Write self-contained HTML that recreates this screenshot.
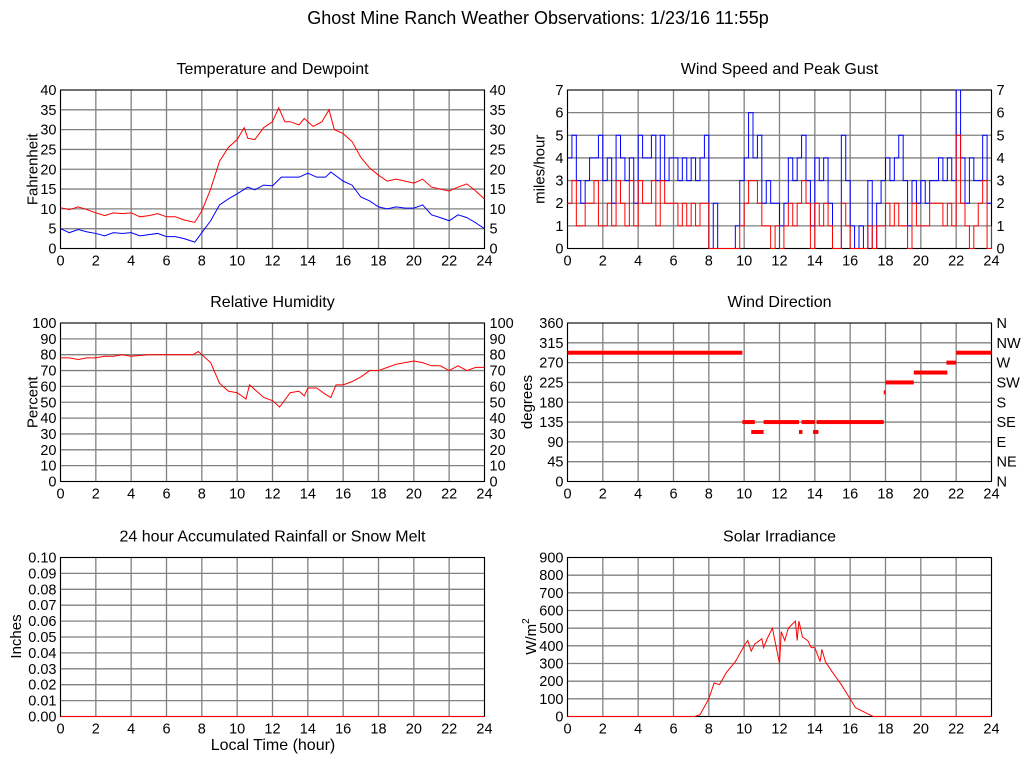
<!DOCTYPE html>
<html><head><meta charset="utf-8"><style>
body{margin:0;background:#fff;width:1024px;height:768px;overflow:hidden}
svg{display:block;font-family:"Liberation Sans",sans-serif}
</style></head><body>
<svg id="s" width="1024" height="768" xmlns="http://www.w3.org/2000/svg">
<text x="538" y="24" font-size="18" text-anchor="middle">Ghost Mine Ranch Weather Observations: 1/23/16 11:55p</text>
<text x="273" y="750" font-size="16" text-anchor="middle">Local Time (hour)</text>
</svg>
<script>
const xTicks=[0,2,4,6,8,10,12,14,16,18,20,22,24];
const tempHours=[0,0.5,1,1.5,2,2.5,3,3.5,4,4.5,5,5.5,6,6.5,7,7.6,8,8.5,9,9.5,10,10.4,10.6,11,11.5,12,12.35,12.7,13,13.5,13.8,14.3,14.8,15.2,15.5,16,16.5,17,17.5,18,18.5,19,19.5,20,20.5,21,21.5,22,22.5,23,23.5,24];
const tempVals=[10.3,9.8,10.5,9.8,9,8.3,9,8.8,9,8,8.3,8.8,8,8,7.2,6.6,9.5,15,22,25.5,27.5,30.5,27.8,27.5,30.5,32,35.5,32,32,31.2,32.8,30.8,32,35,30,29,27,23,20.3,18.5,17,17.5,17,16.5,17.5,15.5,15,14.5,15.5,16.3,14.5,12.5];
const dewHours=[0,0.5,1,1.5,2,2.5,3,3.5,4,4.5,5,5.5,6,6.5,7,7.6,8,8.5,9,9.5,10,10.6,11,11.5,12,12.5,13,13.5,14,14.5,15,15.3,16,16.5,17,17.5,18,18.5,19,19.5,20,20.5,21,21.5,22,22.5,23,23.5,24];
const dewVals=[5,4,4.8,4.2,3.8,3.2,4,3.8,4,3.2,3.5,3.8,3,3,2.5,1.6,4,7,11,12.5,13.8,15.5,14.8,16,15.8,18,18,18,19,18,18,19.3,17,16,13,12,10.5,10,10.5,10.2,10.2,11,8.5,7.8,7,8.5,7.8,6.5,5];
const rhHours=[0,0.5,1,1.5,2,2.5,3,3.5,4,4.5,5,5.5,6,6.5,7,7.5,7.8,8.5,9,9.5,10,10.5,10.7,11,11.5,12,12.4,13,13.5,13.8,14,14.5,15,15.3,15.6,16,16.5,17,17.5,18,18.5,19,19.5,20,20.5,21,21.5,22,22.5,23,23.5,24];
const rhVals=[78,78,77,78,78,79,79,80,79,79.5,80,80,80,80,80,80,82,75,62,57,56,52,61,58,53,51,47,56,57,54,59,59,55,53,61,61,63,66,70,70,72,74,75,76,75,73,73,70,73,70,72,72];
const windHours=[];for(let i=0;i<=96;i++)windHours.push(i*0.25);
const gustVals=[4,5,3,2,3,4,4,5, 3,4,2,5,4,3,4,2, 5,4,4,5,3,5,3,4, 4,3,4,3,4,3,4,5, 0,2,0,0,0,0,1,3, 4,6,4,5,2,3,2,2, 1,2,4,3,4,5,3,1, 4,3,4,2,0,0,5,3, 1,0,1,0,3,0,2,3, 4,3,4,5,3,1,3,2, 3,2,3,3,4,3,4,3, 7,4,2,4,3,3,5,2,2];
const speedVals=[2,3,1,1,2,2,3,1, 1,2,1,3,2,1,3,1, 3,2,2,3,1,3,2,2, 2,1,2,1,2,1,2,2, 0,0,0,0,0,0,0,1, 2,3,3,2,1,1,0,1, 0,1,2,1,2,3,2,0, 2,1,2,1,0,0,2,1, 0,0,0,0,1,0,1,1, 2,1,2,1,1,0,2,1, 1,1,2,2,2,1,2,1, 5,2,1,0,1,2,3,0,1];
const dirStart=[0,9.9,10.4,11.1,13.1,13.25,13.9,14.1,17.9,18,19.6,21.45,22];
const dirEnd=[9.9,10.6,11.1,13.1,13.3,14,14.2,17.9,18,19.6,21.5,22,24];
const dirVals=[292.5,135,112.5,135,112.5,135,112.5,135,202.5,225,247.5,270,292.5];
const solarHours=[0,7.2,7.5,8,8.3,8.6,9,9.5,10,10.2,10.4,10.6,11,11.1,11.3,11.6,11.8,12,12.1,12.3,12.5,12.7,12.9,13,13.1,13.3,13.6,13.8,14,14.3,14.4,14.6,15,15.5,16,16.3,17,17.3,24];
const solarVals=[0,0,10,100,190,180,250,310,400,430,370,410,440,390,440,500,400,300,480,430,500,520,540,430,540,450,430,390,390,310,380,310,250,180,100,50,15,0,0];
const rainHours=[0,24];const rainVals=[0,0];

const S=document.getElementById('s');const NS='http://www.w3.org/2000/svg';
function el(t,a,p){const e=document.createElementNS(NS,t);for(const k in a)e.setAttribute(k,a[k]);(p||S).appendChild(e);return e;}
function panel(name,x0,x1,y0,y1,ymin,ymax,yTicks,yLab,rightLab,title,ytitle){
  const g=el('g',{});
  
  
  const sx=h=>x0+(h/24)*(x1-x0), sy=v=>y1-(v-ymin)/(ymax-ymin)*(y1-y0);
  xTicks.forEach(t=>{const l=el('line',{x1:sx(t),x2:sx(t),y1:y0,y2:y1,stroke:'#808080','stroke-width':1.3},g);
    
    const tx=el('text',{x:sx(t),y:y1+17,'font-size':14.5,'text-anchor':'middle'},g);tx.textContent=t;
    });
  yTicks.forEach((t,i)=>{const l=el('line',{x1:x0,x2:x1,y1:sy(t),y2:sy(t),stroke:'#808080','stroke-width':1.3},g);
    
    const tx=el('text',{x:x0-4,y:sy(t)+5,'font-size':14.5,'text-anchor':'end'},g);tx.textContent=yLab[i];
    
    if(rightLab){const r=el('text',{x:x1+5,y:sy(t)+5,'font-size':14.5},g);r.textContent=rightLab[i];
      }});
  const b=el('rect',{x:x0,y:y0,width:x1-x0,height:y1-y0,fill:'none',stroke:'#000','stroke-width':1},g);
  
  const tt=el('text',{x:(x0+x1)/2,y:y0-16,'font-size':16,'text-anchor':'middle'},g);tt.textContent=title;
  
  const yt=el('text',{x:0,y:0,'font-size':15,'text-anchor':'middle',transform:`translate(${x0-23},${(y0+y1)/2}) rotate(-90)`},g);yt.innerHTML=ytitle;
  
  return {g,sx,sy};
}
function line(p,hs,vs,color,name,step){
  let d='';hs.forEach((h,i)=>{const X=p.sx(h),Y=p.sy(vs[i]);
    if(i===0)d+='M'+X+' '+Y;else if(step)d+=' H'+X+' V'+Y;else d+=' L'+X+' '+Y;});
  const e=el('path',{d,fill:'none',stroke:color,'stroke-width':1},p.g);
  
  
}
const t5=[0,5,10,15,20,25,30,35,40];
let p=panel('temperature',60.5,484.5,90,248.5,0,40,t5,t5,t5,'Temperature and Dewpoint','Fahrenheit');
line(p,dewHours,dewVals,'#00f','dewpoint-line');line(p,tempHours,tempVals,'#f00','temperature-line');
const w7=[0,1,2,3,4,5,6,7];
p=panel('wind-speed',567.5,991.5,90,248.5,0,7,w7,w7,w7,'Wind Speed and Peak Gust','miles/hour');
line(p,windHours,gustVals,'#00f','gust-line',true);line(p,windHours,speedVals,'#f00','speed-line',true);
const r10=[0,10,20,30,40,50,60,70,80,90,100];
p=panel('humidity',60.5,484.5,323,481.5,0,100,r10,r10,r10,'Relative Humidity','Percent');
line(p,rhHours,rhVals,'#f00','humidity-line');
const d45=[0,45,90,135,180,225,270,315,360];
p=panel('wind-direction',567.5,991.5,323,481.5,0,360,d45,d45,['N','NE','E','SE','S','SW','W','NW','N'],'Wind Direction','degrees');
p.g.lastChild.setAttribute('transform','translate(532,402) rotate(-90)');
dirVals.forEach((v,i)=>{const r=el('rect',{x:p.sx(dirStart[i]),y:p.sy(v)-2,width:p.sx(dirEnd[i])-p.sx(dirStart[i]),height:4,fill:'#f00'},p.g);
  
  });
const rn=[0,0.01,0.02,0.03,0.04,0.05,0.06,0.07,0.08,0.09,0.10];
p=panel('rainfall',60.5,484.5,557.5,716.5,0,0.1,rn,rn.map(v=>v.toFixed(2)),null,'24 hour Accumulated Rainfall or Snow Melt','Inches');
p.g.lastChild.setAttribute('transform','translate(21,636.5) rotate(-90)');
line(p,rainHours,rainVals,'#f00','rainfall-line');
const s9=[0,100,200,300,400,500,600,700,800,900];
p=panel('solar',567.5,991.5,557.5,716.5,0,900,s9,s9,null,'Solar Irradiance','W/m<tspan dy="-7" font-size="10">2</tspan>');
p.g.lastChild.setAttribute('transform','translate(536,636.5) rotate(-90)');
line(p,solarHours,solarVals,'#f00','solar-line');
</script>
</body></html>
